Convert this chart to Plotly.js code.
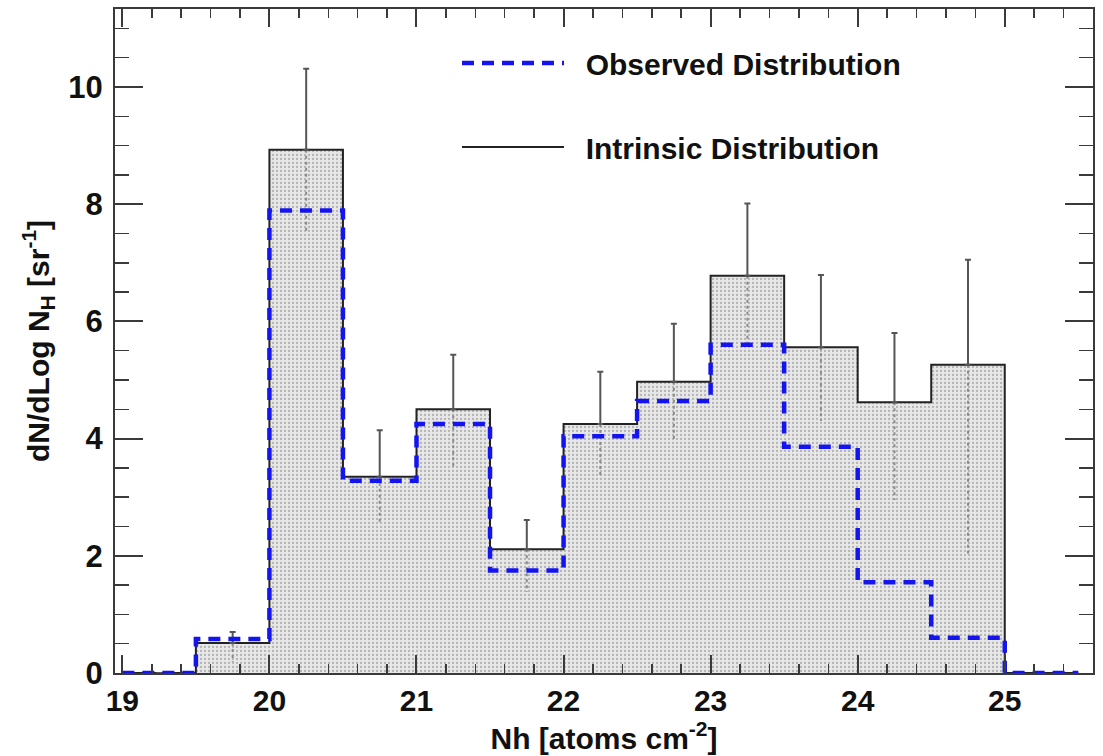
<!DOCTYPE html>
<html>
<head>
<meta charset="utf-8">
<script src="https://cdn.plot.ly/plotly-3.0.1.min.js"></script>
<style>
  html, body { margin: 0; padding: 0; background: #ffffff; }
  #chart { width: 1103px; height: 756px; }
</style>
</head>
<body>
<div id="chart"></div>
<script>
// Histogram bin edges in log N_H (atoms cm^-2)
const binEdges = [19.0, 19.5, 20.0, 20.5, 21.0, 21.5, 22.0, 22.5, 23.0, 23.5, 24.0, 24.5, 25.0, 25.5];
// Bin centres where the uncertainties are drawn
const binCenters = [19.25, 19.75, 20.25, 20.75, 21.25, 21.75, 22.25, 22.75, 23.25, 23.75, 24.25, 24.75, 25.25];

// dN/dLog N_H per bin [sr^-1]
const intrinsic = [0, 0.51, 8.93, 3.35, 4.50, 2.11, 4.25, 4.97, 6.78, 5.56, 4.62, 5.26, 0];
const observed  = [0, 0.58, 7.89, 3.28, 4.25, 1.75, 4.04, 4.64, 5.60, 3.86, 1.55, 0.60, 0];

// Upper and lower ends of the intrinsic uncertainties
const errTop    = [null, 0.70, 10.31, 4.14, 5.43, 2.61, 5.14, 5.96, 8.01, 6.79, 5.80, 7.05, null];
const errBottom = [null, 0.19, 7.54, 2.53, 3.52, 1.38, 3.33, 3.95, 5.55, 4.30, 2.95, 2.04, null];

const xTickVals = [19, 20, 21, 22, 23, 24, 25];
const yTickVals = [0, 2, 4, 6, 8, 10];

const legendNames = ['Observed Distribution', 'Intrinsic Distribution'];

// Step outlines: repeat the last bin value so the final edge closes the step
const stepY = vals => vals.concat([vals[vals.length - 1]]);

// Lower halves of the error bars as separate dotted segments
const lowX = [], lowY = [];
binCenters.forEach((c, i) => {
  if (errBottom[i] === null) return;
  lowX.push(c, c, null);
  lowY.push(intrinsic[i], errBottom[i], null);
});

const upperPlus = intrinsic.map((v, i) => errTop[i] === null ? null : errTop[i] - v);

const axisColor = '#3a3a3a';
const font = 'Liberation Sans, Arial, Helvetica, sans-serif';
const pad = '\u00a0\u00a0';

const traces = [
  {
    // shaded intrinsic distribution
    x: binEdges, y: stepY(intrinsic),
    type: 'scatter', mode: 'lines', line: { shape: 'hv', width: 0, color: 'rgba(0,0,0,0)' },
    fill: 'tozeroy',
    fillcolor: '#e2e2e2',
    fillpattern: { shape: '.', fgcolor: '#b4b4b4', bgcolor: '#e8e8e8', size: 4, solidity: 0.25 },
    showlegend: false, hoverinfo: 'skip'
  },
  {
    x: lowX, y: lowY,
    type: 'scatter', mode: 'lines',
    line: { color: '#8a8a8a', width: 2, dash: 'dot' },
    showlegend: false, hoverinfo: 'skip'
  },
  {
    name: pad + legendNames[1],
    legendgroup: 'intrinsic',
    x: binEdges, y: stepY(intrinsic),
    type: 'scatter', mode: 'lines',
    line: { shape: 'hv', color: '#222222', width: 2 },
    legendrank: 2
  },
  {
    // upper halves of the error bars
    x: binCenters, y: intrinsic,
    type: 'scatter', mode: 'markers',
    marker: { size: 1, color: 'rgba(0,0,0,0)' },
    error_y: { type: 'data', symmetric: false, array: upperPlus, arrayminus: intrinsic.map(() => 0),
               color: '#555555', thickness: 2, width: 3 },
    showlegend: false, hoverinfo: 'skip'
  },
  {
    name: pad + legendNames[0],
    legendgroup: 'observed',
    x: binEdges, y: stepY(observed),
    type: 'scatter', mode: 'lines',
    line: { shape: 'hv', color: '#1414f0', width: 4.5, dash: '12px,8px' },
    legendrank: 1
  }
];

const layout = {
  width: 1103, height: 756,
  margin: { l: 115, r: 10, t: 9, b: 83 },
  paper_bgcolor: '#ffffff', plot_bgcolor: '#ffffff',
  font: { family: font, color: '#111111' },
  showlegend: true,
  legend: {
    x: 0.3497, y: 0.958, xanchor: 'left', yanchor: 'top',
    bgcolor: 'rgba(0,0,0,0)', borderwidth: 0,
    font: { family: font, size: 30, weight: 'bold', color: '#111111' },
    itemwidth: 102, traceorder: 'grouped', tracegroupgap: 42
  },
  xaxis: {
    range: [18.95, 25.6],
    tickvals: xTickVals, ticktext: xTickVals.map(String),
    ticks: 'inside', ticklen: 18, tickwidth: 2, tickcolor: axisColor,
    minor: { dtick: 0.2, ticks: 'inside', ticklen: 9, tickwidth: 1.5, tickcolor: axisColor },
    showline: true, linecolor: axisColor, linewidth: 2, mirror: 'ticks',
    showgrid: false, zeroline: false,
    tickfont: { family: font, size: 30, weight: 'bold', color: '#111111' },
    title: { text: 'Nh [atoms cm<sup>-2</sup>]', font: { family: font, size: 30, weight: 'bold', color: '#111111' }, standoff: 9 }
  },
  yaxis: {
    range: [0, 11.33],
    tickvals: yTickVals, ticktext: yTickVals.map(String),
    ticks: 'inside', ticklen: 28, tickwidth: 2, tickcolor: axisColor,
    minor: { dtick: 0.5, ticks: 'inside', ticklen: 14, tickwidth: 1.5, tickcolor: axisColor },
    showline: true, linecolor: axisColor, linewidth: 2, mirror: 'ticks',
    showgrid: false, zeroline: false,
    ticklabelstandoff: 4,
    tickfont: { family: font, size: 31, weight: 'bold', color: '#111111' },
    title: { text: 'dN/dLog N<sub>H</sub> [sr<sup>-1</sup>]', font: { family: font, size: 30, weight: 'bold', color: '#111111' }, standoff: 10 }
  }
};

Plotly.newPlot('chart', traces, layout, { displayModeBar: false, staticPlot: true });
</script>
</body>
</html>
